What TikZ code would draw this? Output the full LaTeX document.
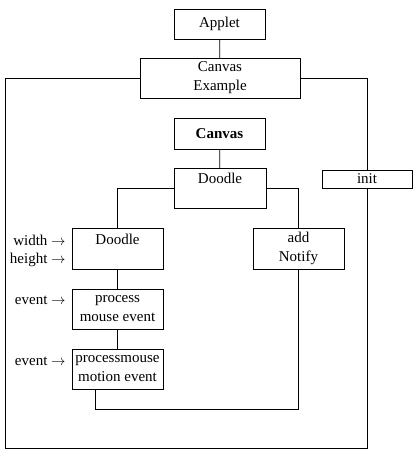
\documentclass[tikz,border=0pt]{standalone}
\usepackage{fontspec}
\setmainfont{Liberation Serif}
\begin{document}
\begin{tikzpicture}[x=1pt, y=-1pt, line width=0.8pt,
	box/.style={rectangle, draw, inner sep=0pt, outer sep=0pt, align=center, minimum width=91pt, minimum height=40pt},
	lbl/.style={anchor=east, inner sep=0pt}]
					\fontsize{15}{19}\selectfont
					\useasboundingbox (0,0) rectangle (420,456);
					\node (applet) at (219.5,24) [box, minimum height=30pt] {Applet};
					\node (canvasex) at (220,78) [box, minimum width=160pt] {Canvas\\Example};
					\node (canvas) at (219.5,133.5) [box, minimum height=31pt] {\textbf{Canvas}};
					\node (doodle) at (220,188) [box, minimum width=92pt] {Doodle\\~};
					\node (init) at (367,179) [box, minimum width=90pt, minimum height=18pt] {init};
					\node (doodlei) at (117.5,248.5) [box, minimum height=41pt] {Doodle\\~};
					\node (notify) at (298.5,248.5) [box, minimum height=41pt] {add\\Notify};
					\node (pme) at (117.5,309) [box] {process\\mouse event};
					\node (pmme) at (117.5,369) [box] {processmouse\\motion event};
					
					\node (width) at (66,240) [lbl] {width $\rightarrow$};
					\node (height) at (66,260) [lbl] {height $\rightarrow$};
					\node (ev1) at (66,300) [lbl] {event $\rightarrow$};
					\node (ev2) at (66,361) [lbl] {event $\rightarrow$};
					
					\coordinate (tl) at (5,78);
					\coordinate (tr) at (367,78);
					\coordinate (bl) at (5,448);
					\coordinate (br) at (367,448);
					
					\draw[-] (applet) to (canvasex);
					\draw[-] (canvasex.west) -- (tl) -- (bl) -- (br) -- (init.south);
					\draw[-] (canvasex.east) -- (tr) -- (init.north);
					\draw[-] (canvas) to (doodle);
					\draw[-] (doodle.west) -| (doodlei.north);
					\draw[-] (doodle.east) -| (notify.north);
					\draw[-] (doodlei) to (pme);
					\draw[-] (pme) to (pmme);
					\draw[-] ([xshift=-22.5pt]pmme.south) -- ++(0,20) -| (notify.south);
					
				\end{tikzpicture}
\end{document}
